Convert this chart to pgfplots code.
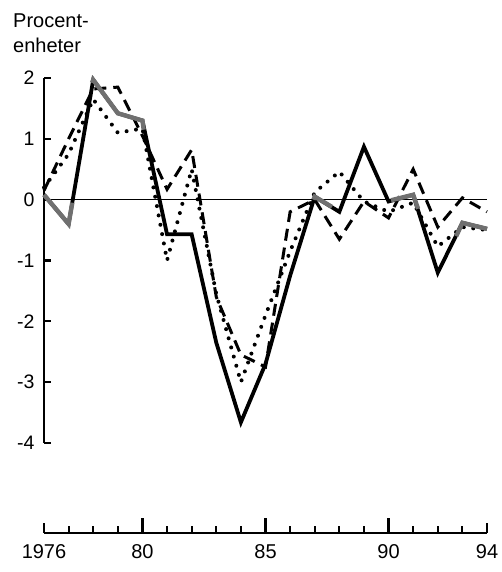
\documentclass[border=0pt]{standalone}
\usepackage{fontspec}
\setmainfont{Liberation Sans}
\usepackage{pgfplots}
\pgfplotsset{compat=1.18}
\definecolor{scangray}{RGB}{112,112,112}
\begin{document}
\begin{tikzpicture}
\useasboundingbox (0pt,0pt) rectangle (502pt,572pt);
\begin{axis}[
 at={(44pt,129pt)}, anchor=south west,
 scale only axis, width=443pt, height=365pt,
 xmin=1976, xmax=1994, ymin=-4, ymax=2,
 axis x line=none, axis y line=left,
 axis line style={-, line width=2.2pt},
 every outer y axis line/.append style={-},
 ytick={-4,-3,-2,-1,0,1,2}, yticklabels={-4,-3,-2,-1,0,1,2},
 tick align=inside, major tick length=7pt,
 tick style={line width=2.2pt, black},
 yticklabel style={font=\fontsize{19.5}{22}\selectfont, xshift=-6pt},
 clip=false,
]
\addplot[black, line width=1.6pt] coordinates {(1976,0)(1994,0)};
% dashed series
\addplot[black, line width=3pt, dash pattern=on 12pt off 7pt] coordinates {
(1976,0.15)(1977,1.0)(1978,1.82)(1979,1.85)(1980,1.05)(1981,0.17)(1982,0.82)
(1983,-1.6)(1984,-2.55)(1985,-2.75)(1986,-0.2)(1987,0.0)(1988,-0.65)(1989,-0.03)
(1990,-0.3)(1991,0.5)(1992,-0.45)(1993,0.03)(1994,-0.2)};
% dotted series
\addplot[black, line width=4pt, line cap=round, dash pattern=on 0pt off 9.5pt] coordinates {
(1976,0.2)(1977,0.75)(1978,1.65)(1979,1.1)(1980,1.17)(1981,-1.0)(1982,0.5)
(1983,-1.55)(1984,-3.0)(1985,-1.9)(1986,-0.85)(1987,0.12)(1988,0.46)(1989,-0.03)
(1990,-0.2)(1991,-0.05)(1992,-0.77)(1993,-0.45)(1994,-0.5)};
% solid series
\addplot[black, line width=3.8pt, line join=miter] coordinates {
(1976,0.08)(1977,-0.4)(1978,1.97)(1979,1.42)(1980,1.3)(1981,-0.57)(1982,-0.57)
(1983,-2.35)(1984,-3.66)(1985,-2.7)(1986,-1.25)(1987,0.05)(1988,-0.2)(1989,0.87)
(1990,-0.03)(1991,0.08)(1992,-1.2)(1993,-0.38)(1994,-0.48)};
% grey parts of the solid line
\addplot[scangray, line width=4.4pt, unbounded coords=jump] coordinates {
(1976,0.08)(1977,-0.4)(1977.15,-0.05)(1977.2,nan)
(1977.95,1.92)(1978,1.97)(1979,1.42)(1980,1.3)(1980.05,1.15)(1980.1,nan)
(1986.95,0.0)(1987,0.05)(1987.7,-0.12)(1987.8,nan)
(1990.1,-0.01)(1991,0.08)(1991.2,-0.15)(1991.3,nan)
(1992.75,-0.6)(1993,-0.38)(1994,-0.48)};
\end{axis}
\begin{axis}[
 at={(44pt,39pt)}, anchor=south west,
 scale only axis, width=443pt, height=30pt,
 xmin=1976, xmax=1994, ymin=0, ymax=1,
 axis y line=none, axis x line=bottom,
 axis line style={-, line width=2.2pt},
 every outer x axis line/.append style={-},
 xtick={1980,1985,1990}, xticklabels={80,85,90},
 extra x ticks={1976,1994}, extra x tick labels={1976,94},
 extra x tick style={major tick length=10pt},
 minor xtick={1977,1978,1979,1981,1982,1983,1984,1986,1987,1988,1989,1991,1992,1993},
 tick align=inside, major tick length=15pt, minor tick length=7pt,
 tick style={line width=2.2pt, black},
 xticklabel style={font=\fontsize{20}{23}\selectfont, yshift=-8pt},
]
\addplot[draw=none] coordinates {(1976,0.5)};
\end{axis}
\node[anchor=base west, inner sep=0pt, font=\fontsize{20}{23}\selectfont] at (13pt,544pt) {Procent-};
\node[anchor=base west, inner sep=0pt, font=\fontsize{20}{23}\selectfont] at (13pt,519pt) {enheter};
\end{tikzpicture}
\end{document}
